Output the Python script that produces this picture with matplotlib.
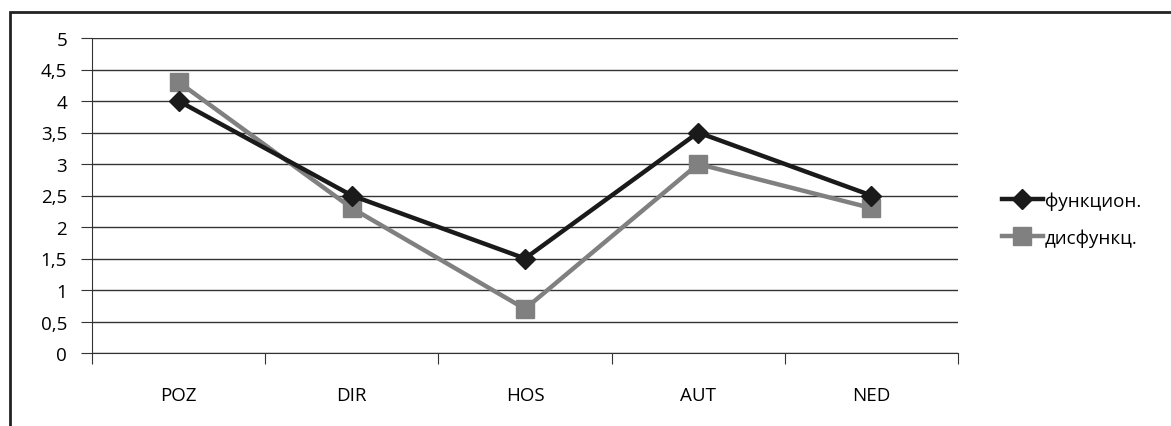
import matplotlib.pyplot as plt
from matplotlib.patches import Rectangle

plt.rcParams['font.family'] = ['Open Sans', 'DejaVu Sans']

categories = ["POZ", "DIR", "HOS", "AUT", "NED"]
funkcion = [4.0, 2.5, 1.5, 3.5, 2.5]
disfunkc = [4.3, 2.3, 0.7, 3.0, 2.3]
y_ticks = [0, 0.5, 1, 1.5, 2, 2.5, 3, 3.5, 4, 4.5, 5]

fig = plt.figure(figsize=(11.71, 4.27), dpi=100)
ax = fig.add_axes([92 / 1171, 1 - 354 / 427, (958 - 92) / 1171, (354 - 39) / 427])

# outer chart border (only left and top visible in reference)
fig.patches.append(Rectangle((10 / 1171, -0.1), 1.2, 1 - 13 / 427 + 0.1,
                             transform=fig.transFigure, fill=False,
                             edgecolor="#222222", linewidth=2))

x = list(range(len(categories)))
ax.plot(x, funkcion, color="#1a1a1a", linewidth=3.2, marker="D", markersize=10,
        label="функцион.", zorder=4)
ax.plot(x, disfunkc, color="#808080", linewidth=3.2, marker="s", markersize=12.5,
        label="дисфункц.", zorder=3)

ax.set_xlim(-0.5, 4.5)
ax.set_ylim(0, 5)
ax.set_yticks(y_ticks)
ax.set_yticklabels([("%g" % v).replace(".", ",") for v in y_ticks], fontsize=13.5)
ax.yaxis.grid(True, color="#333333", linewidth=1)
ax.set_axisbelow(True)

ax.set_xticks([i - 0.5 for i in range(len(categories) + 1)])
ax.set_xticklabels([])
ax.set_xticks(x, minor=True)
ax.set_xticklabels(categories, minor=True, fontsize=13.5)
ax.tick_params(axis="x", which="major", length=8, color="#333333", direction="out")
ax.tick_params(axis="x", which="minor", length=0, pad=24)
ax.tick_params(axis="y", length=8, color="#333333", pad=10)

for s in ["top", "right"]:
    ax.spines[s].set_visible(False)
ax.spines["left"].set_color("#333333")
ax.spines["bottom"].set_color("#333333")

fig.legend(loc="center left", bbox_to_anchor=(985 / 1171, 1 - 220 / 427),
           frameon=False, fontsize=13.5, handlelength=2.2, handletextpad=0.1,
           labelspacing=1.0)

fig.savefig("out.png", dpi=100)
